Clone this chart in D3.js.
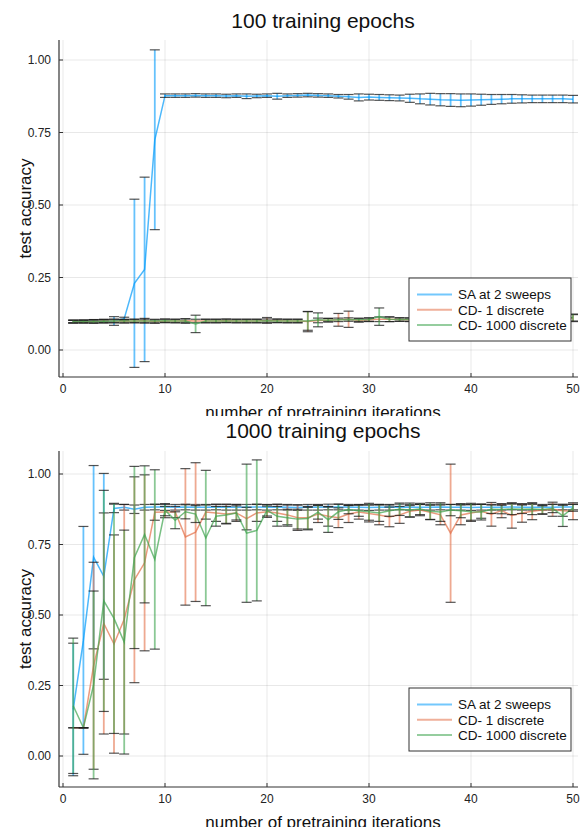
<!DOCTYPE html>
<html lang="en">
<head>
    <meta charset="UTF-8">
    <title>test accuracy vs pretraining iterations</title>
    <style>
        body { margin: 0; background: #fff; }
        svg { display: block; font-family: "Liberation Sans", Arial, Helvetica, sans-serif; }
    </style>
</head>
<body>
<script src="https://cdn.jsdelivr.net/npm/d3@7"></script>
<script>
    // ---- data ----
    const iterations = d3.range(1, 51);
    const seriesNames = ["SA at 2 sweeps", "CD- 1 discrete", "CD- 1000 discrete"];
    const seriesColors = ["#009AFA", "#E36F47", "#3EA44E"];
    const panelTitles = ["100 training epochs", "1000 training epochs"];
    const xTicks = [0, 10, 20, 30, 40, 50];
    const yTicks = [0, 0.25, 0.5, 0.75, 1];
    const yTickLabels = ["0.00", "0.25", "0.50", "0.75", "1.00"];

    // 100 training epochs
    const saTopMean = [0.098, 0.099, 0.1, 0.1, 0.1, 0.108, 0.23, 0.278, 0.725,
        0.877, 0.877, 0.877, 0.878, 0.877, 0.877, 0.876, 0.877, 0.875, 0.876,
        0.877, 0.875, 0.877, 0.878, 0.879, 0.878, 0.877, 0.875, 0.873, 0.871,
        0.872, 0.871, 0.870, 0.869, 0.868, 0.866, 0.865, 0.863, 0.862, 0.861,
        0.862, 0.863, 0.864, 0.865, 0.866, 0.866, 0.866, 0.866, 0.866, 0.866, 0.865];
    const saTopErr = [0.004, 0.004, 0.004, 0.004, 0.015, 0.005, 0.29, 0.318, 0.31,
        0.006, 0.006, 0.006, 0.006, 0.006, 0.006, 0.006, 0.006, 0.008, 0.006,
        0.006, 0.01, 0.006, 0.006, 0.006, 0.006, 0.006, 0.006, 0.008, 0.012,
        0.01, 0.01, 0.01, 0.01, 0.014, 0.017, 0.02, 0.021, 0.022, 0.022,
        0.021, 0.019, 0.017, 0.016, 0.015, 0.014, 0.013, 0.013, 0.013, 0.013, 0.013];
    const cd1TopMean = [0.098, 0.098, 0.099, 0.1, 0.1, 0.099, 0.1, 0.101, 0.098, 0.1,
        0.1, 0.101, 0.1, 0.1, 0.1, 0.101, 0.1, 0.1, 0.1, 0.102,
        0.101, 0.1, 0.1, 0.098, 0.102, 0.103, 0.104, 0.106, 0.102, 0.104,
        0.106, 0.106, 0.105, 0.104, 0.105, 0.106, 0.106, 0.106, 0.107, 0.107,
        0.108, 0.108, 0.108, 0.108, 0.109, 0.109, 0.109, 0.11, 0.11, 0.11];
    const cd1TopErr = [0.005, 0.005, 0.006, 0.006, 0.006, 0.006, 0.006, 0.008, 0.006, 0.006,
        0.006, 0.006, 0.006, 0.006, 0.006, 0.006, 0.006, 0.006, 0.006, 0.01,
        0.006, 0.006, 0.006, 0.035, 0.008, 0.006, 0.022, 0.028, 0.006, 0.006,
        0.008, 0.008, 0.006, 0.006, 0.006, 0.006, 0.006, 0.006, 0.006, 0.006,
        0.006, 0.006, 0.006, 0.006, 0.006, 0.006, 0.006, 0.008, 0.01, 0.012];
    const cd1000TopMean = [0.098, 0.098, 0.098, 0.099, 0.1, 0.1, 0.1, 0.1, 0.1, 0.101,
        0.1, 0.1, 0.09, 0.1, 0.1, 0.1, 0.1, 0.1, 0.1, 0.101,
        0.1, 0.1, 0.1, 0.1, 0.104, 0.103, 0.104, 0.105, 0.104, 0.105,
        0.115, 0.106, 0.105, 0.105, 0.106, 0.106, 0.107, 0.107, 0.107, 0.108,
        0.108, 0.108, 0.109, 0.109, 0.109, 0.11, 0.11, 0.11, 0.11, 0.112];
    const cd1000TopErr = [0.005, 0.005, 0.006, 0.006, 0.006, 0.006, 0.006, 0.006, 0.006, 0.006,
        0.006, 0.008, 0.03, 0.006, 0.006, 0.006, 0.006, 0.006, 0.006, 0.006,
        0.006, 0.006, 0.006, 0.032, 0.024, 0.006, 0.006, 0.006, 0.006, 0.006,
        0.03, 0.008, 0.006, 0.006, 0.006, 0.006, 0.006, 0.006, 0.006, 0.006,
        0.006, 0.006, 0.006, 0.006, 0.006, 0.006, 0.006, 0.008, 0.01, 0.012];

    // 1000 training epochs
    const saBotMean = [0.165, 0.41, 0.705, 0.637, 0.878, 0.882, 0.875,
        0.882, 0.883, 0.883, 0.882, 0.883, 0.882, 0.882, 0.883, 0.882, 0.882,
        0.882, 0.883, 0.882, 0.883, 0.882, 0.881, 0.882, 0.882, 0.883, 0.883,
        0.882, 0.882, 0.881, 0.882, 0.882, 0.883, 0.882, 0.882, 0.882, 0.883,
        0.882, 0.882, 0.881, 0.882, 0.882, 0.882, 0.883, 0.882, 0.882, 0.882,
        0.882, 0.883, 0.883];
    const saBotErr = [0.235, 0.404, 0.325, 0.365, 0.015, 0.01, 0.015,
        0.01, 0.01, 0.012, 0.01, 0.01, 0.01, 0.01, 0.01, 0.01, 0.01,
        0.01, 0.01, 0.01, 0.01, 0.01, 0.01, 0.01, 0.01, 0.01, 0.01,
        0.01, 0.01, 0.01, 0.01, 0.01, 0.01, 0.01, 0.01, 0.01, 0.01,
        0.01, 0.01, 0.01, 0.01, 0.01, 0.01, 0.01, 0.01, 0.01, 0.01,
        0.01, 0.01, 0.01];
    const cd1BotMean = [0.1, 0.1, 0.32, 0.47, 0.397, 0.485, 0.625, 0.685, 0.864, 0.865,
        0.865, 0.777, 0.794, 0.865, 0.862, 0.858, 0.862, 0.842, 0.862, 0.866,
        0.862, 0.855, 0.845, 0.845, 0.858, 0.85, 0.845, 0.858, 0.865, 0.86,
        0.855, 0.848, 0.855, 0.868, 0.872, 0.864, 0.855, 0.79, 0.855, 0.862,
        0.868, 0.857, 0.87, 0.853, 0.862, 0.868, 0.872, 0.875, 0.87, 0.868];
    const cd1BotErr = [0, 0, 0.367, 0.392, 0.387, 0.407, 0.365, 0.312, 0.028, 0.02,
        0.02, 0.242, 0.246, 0.025, 0.03, 0.035, 0.03, 0.04, 0.03, 0.02,
        0.03, 0.035, 0.045, 0.04, 0.03, 0.035, 0.035, 0.03, 0.025, 0.03,
        0.035, 0.035, 0.03, 0.02, 0.02, 0.025, 0.035, 0.245, 0.035, 0.03,
        0.025, 0.042, 0.025, 0.045, 0.033, 0.03, 0.015, 0.025, 0.02, 0.03];
    const cd1000BotMean = [0.178, 0.1, 0.252, 0.55, 0.488, 0.404, 0.704, 0.786, 0.697, 0.872,
        0.836, 0.866, 0.858, 0.773, 0.85, 0.855, 0.862, 0.79, 0.80, 0.871,
        0.85, 0.845, 0.84, 0.842, 0.865, 0.838, 0.866, 0.874, 0.87, 0.866,
        0.862, 0.87, 0.875, 0.872, 0.876, 0.868, 0.865, 0.872, 0.87, 0.866,
        0.865, 0.875, 0.874, 0.876, 0.875, 0.876, 0.874, 0.878, 0.852, 0.88];
    const cd1000BotErr = [0.24, 0, 0.333, 0.392, 0.408, 0.397, 0.323, 0.243, 0.318, 0.02,
        0.03, 0.025, 0.03, 0.24, 0.035, 0.03, 0.025, 0.245, 0.25, 0.02,
        0.035, 0.03, 0.035, 0.04, 0.025, 0.045, 0.027, 0.015, 0.02, 0.03,
        0.03, 0.02, 0.022, 0.025, 0.02, 0.03, 0.033, 0.02, 0.025, 0.03,
        0.028, 0.015, 0.015, 0.02, 0.015, 0.02, 0.015, 0.015, 0.038, 0.012];

    const panels = [
        { title: panelTitles[0], means: [saTopMean, cd1TopMean, cd1000TopMean],
          errs: [saTopErr, cd1TopErr, cd1000TopErr], y0: 350, y1: 60, top: 40 },
        { title: panelTitles[1], means: [saBotMean, cd1BotMean, cd1000BotMean],
          errs: [saBotErr, cd1BotErr, cd1000BotErr], y0: 346, y1: 64, top: 41 }
    ];

    // ---- layout ----
    const width = 588, height = 827;
    const axisLeft = 59, axisRight = 578, axisBottom = 377;
    const capHalf = 5;

    const svg = d3.select("body").append("svg")
        .attr("width", width)
        .attr("height", height);

    svg.append("defs").append("clipPath").attr("id", "topclip")
        .append("rect").attr("x", 0).attr("y", 0).attr("width", width).attr("height", 416);

    const x = d3.scaleLinear().domain([0, 50]).range([63, 573]);

    panels.forEach((p, pi) => {
        const g = svg.append("g")
            .attr("transform", `translate(0,${pi * 410})`)
            .attr("clip-path", pi === 0 ? "url(#topclip)" : null);

        const y = d3.scaleLinear().domain([0, 1]).range([p.y0, p.y1]);

        // grid
        g.append("g").selectAll("line.gx").data(xTicks).join("line")
            .attr("x1", d => x(d)).attr("x2", d => x(d))
            .attr("y1", p.top).attr("y2", axisBottom)
            .attr("stroke", "#000").attr("stroke-opacity", 0.09).attr("stroke-width", 1);
        g.append("g").selectAll("line.gy").data(yTicks).join("line")
            .attr("x1", axisLeft).attr("x2", axisRight)
            .attr("y1", d => y(d)).attr("y2", d => y(d))
            .attr("stroke", "#000").attr("stroke-opacity", 0.09).attr("stroke-width", 1);

        // series
        const plot = g.append("g");
        p.means.forEach((m, si) => {
            const err = p.errs[si];
            const pts = iterations.map((it, i) => ({ it, v: m[i], e: err[i] }));
            const col = seriesColors[si];

            plot.append("g").selectAll("line").data(pts).join("line")
                .attr("x1", d => x(d.it)).attr("x2", d => x(d.it))
                .attr("y1", d => y(d.v - d.e)).attr("y2", d => y(d.v + d.e))
                .attr("stroke", col).attr("stroke-opacity", 0.6).attr("stroke-width", 1.8);

            plot.append("path").datum(pts)
                .attr("d", d3.line().x(d => x(d.it)).y(d => y(d.v)))
                .attr("fill", "none")
                .attr("stroke", col).attr("stroke-opacity", 0.7).attr("stroke-width", 1.5);

            const caps = plot.append("g");
            [-1, 1].forEach(s => {
                caps.selectAll(null).data(pts).join("line")
                    .attr("x1", d => x(d.it) - capHalf).attr("x2", d => x(d.it) + capHalf)
                    .attr("y1", d => y(d.v + s * d.e)).attr("y2", d => y(d.v + s * d.e))
                    .attr("stroke", "#1a1a1a").attr("stroke-opacity", 0.75).attr("stroke-width", 1.2);
            });
        });

        // axes
        g.append("line").attr("x1", axisLeft).attr("x2", axisLeft)
            .attr("y1", p.top).attr("y2", axisBottom).attr("stroke", "#333").attr("stroke-width", 1.2);
        g.append("line").attr("x1", axisLeft).attr("x2", axisRight)
            .attr("y1", axisBottom).attr("y2", axisBottom).attr("stroke", "#333").attr("stroke-width", 1.2);

        g.append("g").selectAll("line").data(xTicks).join("line")
            .attr("x1", d => x(d)).attr("x2", d => x(d))
            .attr("y1", axisBottom).attr("y2", axisBottom - 4)
            .attr("stroke", "#333").attr("stroke-width", 1);
        g.append("g").selectAll("line").data(yTicks).join("line")
            .attr("x1", axisLeft).attr("x2", axisLeft + 4)
            .attr("y1", d => y(d)).attr("y2", d => y(d))
            .attr("stroke", "#333").attr("stroke-width", 1);

        g.append("g").selectAll("text").data(xTicks).join("text")
            .attr("x", d => x(d)).attr("y", 393)
            .attr("text-anchor", "middle").attr("font-size", 12).attr("fill", "#222")
            .text(d => d);
        g.append("g").selectAll("text").data(yTicks).join("text")
            .attr("x", 51).attr("y", d => y(d) + 4.3)
            .attr("text-anchor", "end").attr("font-size", 12).attr("fill", "#222")
            .text((d, i) => yTickLabels[i]);

        // labels
        g.append("text").attr("x", 323).attr("y", 28)
            .attr("text-anchor", "middle").attr("font-size", 21).attr("fill", "#111")
            .text(p.title);
        g.append("text").attr("x", 323).attr("y", 417.5)
            .attr("text-anchor", "middle").attr("font-size", 17).attr("fill", "#111")
            .text("number of pretraining iterations");
        g.append("text")
            .attr("transform", `translate(31,${(p.top + axisBottom) / 2}) rotate(-90)`)
            .attr("text-anchor", "middle").attr("font-size", 17).attr("fill", "#111")
            .text("test accuracy");

        // legend
        const lg = g.append("g").attr("transform", "translate(409,278)");
        lg.append("rect").attr("width", 162).attr("height", 63)
            .attr("fill", "#fff").attr("stroke", "#333").attr("stroke-width", 1);
        seriesNames.forEach((name, si) => {
            const ly = 16.5 + si * 15.3;
            lg.append("line").attr("x1", 8).attr("x2", 43).attr("y1", ly).attr("y2", ly)
                .attr("stroke", seriesColors[si]).attr("stroke-opacity", 0.55).attr("stroke-width", 2);
            lg.append("text").attr("x", 49).attr("y", ly + 4.7)
                .attr("font-size", 13.5).attr("fill", "#111").text(name);
        });
    });
</script>
</body>
</html>
